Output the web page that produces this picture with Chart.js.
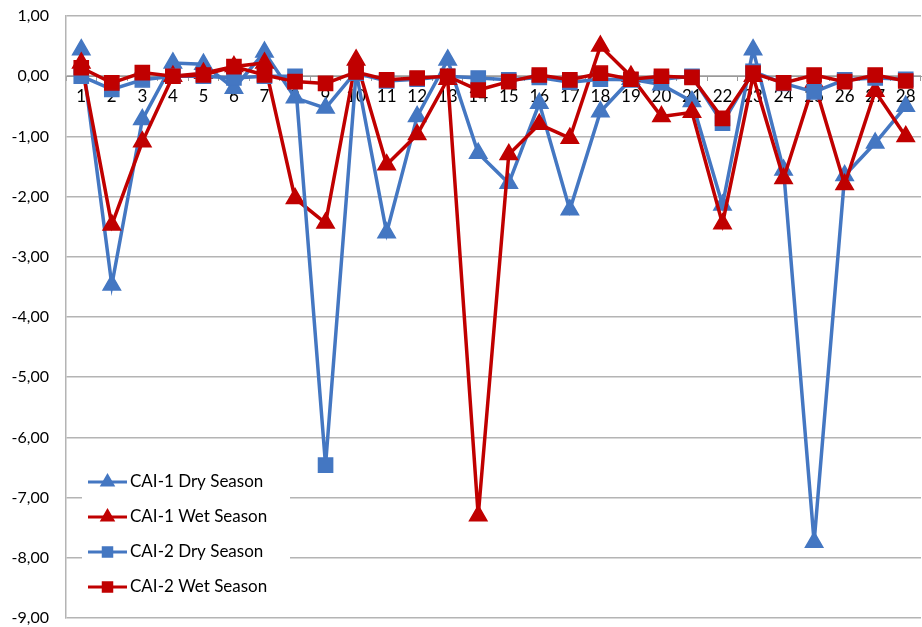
<!DOCTYPE html>
<html>
<head>
<meta charset="utf-8">
<script src="https://cdn.jsdelivr.net/npm/chart.js@4/dist/chart.umd.min.js"></script>
<style>
  html, body { margin: 0; padding: 0; background: #fff; }
  #wrap { width: 922px; height: 627px; position: relative; }
</style>
</head>
<body>
<div id="wrap"><canvas id="c" width="922" height="627"></canvas></div>
<script>
// Sampling points 1..28
const categories = ['1','2','3','4','5','6','7','8','9','10','11','12','13','14',
                    '15','16','17','18','19','20','21','22','23','24','25','26','27','28'];

const cai1Dry = [0.44, -3.47, -0.72, 0.22, 0.20, -0.20, 0.40, -0.36, -0.53, 0.08,
                 -2.60, -0.67, 0.27, -1.28, -1.78, -0.45, -2.22, -0.59, -0.05, -0.14,
                 -0.42, -2.14, 0.44, -1.56, -7.74, -1.65, -1.11, -0.50];

const cai1Wet = [0.22, -2.47, -1.09, 0.00, 0.05, 0.16, 0.22, -2.03, -2.44, 0.27,
                 -1.47, -0.97, -0.05, -7.30, -1.30, -0.80, -1.03, 0.50, 0.00, -0.67,
                 -0.60, -2.45, 0.00, -1.70, -0.10, -1.80, -0.25, -1.00];

const cai2Dry = [0.00, -0.22, -0.06, 0.00, 0.00, -0.03, 0.00, 0.00, -6.46, 0.05,
                 -0.08, -0.05, 0.00, -0.03, -0.06, -0.02, -0.10, -0.05, -0.06, -0.05,
                 0.00, -0.78, 0.08, -0.12, -0.26, -0.06, -0.03, -0.05];

const cai2Wet = [0.14, -0.11, 0.06, 0.00, 0.02, 0.16, 0.02, -0.09, -0.12, 0.07,
                 -0.06, -0.03, 0.00, -0.23, -0.09, 0.02, -0.06, 0.05, -0.05, 0.00,
                 -0.02, -0.70, 0.05, -0.11, 0.02, -0.09, 0.02, -0.08];

const seriesNames = ['CAI-1 Dry Season', 'CAI-1 Wet Season', 'CAI-2 Dry Season', 'CAI-2 Wet Season'];

const BLUE = '#4477C2';
const RED = '#C00000';
const FONT = 'Lato, "Liberation Sans", sans-serif';

function series(label, data, color, style, order) {
  return {
    label, data,
    borderColor: color,
    backgroundColor: color,
    borderWidth: 3.5,
    pointStyle: style,
    pointRadius: style === 'triangle' ? 10 : 10,
    pointBorderWidth: 1.5,
    pointBackgroundColor: color,
    pointBorderColor: color,
    pointHoverRadius: 10,
    tension: 0,
    clip: false,
    order
  };
}

// Legend box drawn inside the plot area, lower left
const innerLegend = {
  id: 'innerLegend',
  afterDraw(chart) {
    const ctx = chart.ctx;
    const x0 = 82, y0 = 466, w = 208, h = 136;
    ctx.save();
    ctx.fillStyle = '#fff';
    ctx.fillRect(x0, y0, w, h);
    const ds = chart.data.datasets;
    ds.forEach((d, i) => {
      const cy = 482 + i * 35;
      ctx.strokeStyle = d.borderColor;
      ctx.lineWidth = 3;
      ctx.beginPath();
      ctx.moveTo(88, cy);
      ctx.lineTo(127, cy);
      ctx.stroke();
      Chart.helpers.drawPoint(ctx, {
        pointStyle: d.pointStyle,
        radius: d.pointStyle === 'triangle' ? 6 : 6,
        borderWidth: 1
      }, 107.5, cy);
      ctx.fillStyle = d.borderColor;
      ctx.fill();
      ctx.fillStyle = '#000';
      ctx.font = '17px ' + FONT;
      ctx.textBaseline = 'middle';
      ctx.textAlign = 'left';
      ctx.fillText(d.label, 130, cy);
    });
    ctx.restore();
  }
};

new Chart(document.getElementById('c'), {
  type: 'line',
  data: {
    labels: categories,
    datasets: [
      series(seriesNames[0], cai1Dry, BLUE, 'triangle', 4),
      series(seriesNames[1], cai1Wet, RED, 'triangle', 3),
      series(seriesNames[2], cai2Dry, BLUE, 'rect', 2),
      series(seriesNames[3], cai2Wet, RED, 'rect', 1)
    ]
  },
  options: {
    responsive: false,
    animation: false,
    layout: { autoPadding: false, padding: { top: 16, right: 1, bottom: 9, left: 0 } },
    plugins: {
      legend: { display: false },
      tooltip: { enabled: false }
    },
    scales: {
      x: {
        position: { y: 0 },
        offset: true,
        afterFit(scale) {
          scale.height = 0;
          scale.paddingLeft = 0;
          scale.paddingRight = 0;
        },
        grid: {
          display: true,
          offset: true,
          drawOnChartArea: false,
          drawTicks: true,
          tickLength: 4,
          color: '#9a9a9a',
          lineWidth: 1
        },
        border: { display: true, color: '#9a9a9a', width: 1 },
        ticks: {
          color: '#000',
          font: { family: FONT, size: 17 },
          padding: 6,
          maxRotation: 0,
          autoSkip: false
        }
      },
      y: {
        min: -9,
        max: 1,
        afterFit(scale) {
          scale.width = 66;
          scale.paddingTop = 0;
          scale.paddingBottom = 0;
        },
        grid: {
          color: '#b4b4b4',
          lineWidth: 1.5,
          drawTicks: true,
          tickLength: 0
        },
        border: { display: true, color: '#b4b4b4', width: 1.5 },
        ticks: {
          stepSize: 1,
          color: '#000',
          font: { family: FONT, size: 16 },
          padding: 17,
          callback: v => v.toFixed(2).replace('.', ',')
        }
      }
    }
  },
  plugins: [innerLegend]
});
</script>
</body>
</html>
